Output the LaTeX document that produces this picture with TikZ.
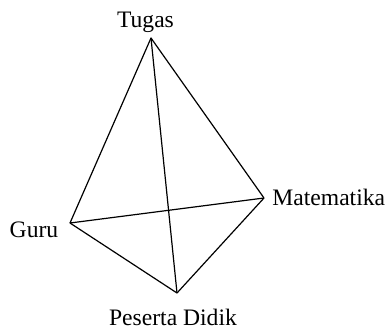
\documentclass[tikz,border=0pt]{standalone}
\usepackage{fontspec}
\setmainfont{Liberation Serif}
\usepackage{tikz}
\usetikzlibrary{positioning,calc}

\begin{document}
\begin{tikzpicture}[x=0.5pt,y=-0.5pt,
		lbl/.style={inner sep=0pt,anchor=base,font=\fontsize{11.8}{14}\selectfont},
		edge/.style={line width=0.6pt,line join=round}]
			\useasboundingbox (0,0) rectangle (388,329);
			% corners
			\coordinate (tugas) at (151,38);
			\coordinate (guru) at (70,223);
			\coordinate (mat) at (264,198);
			\coordinate (siswa) at (177,293);
			% labels
			\node[lbl] (lt) at (145.5,27) {Tugas};
			\node[lbl] (lg) at (34,237) {Guru};
			\node[lbl,anchor=base west] (lm) at (272,205.5) {Matematika};
			\node[lbl] (ls) at (173,325) {Peserta Didik};
			% edges
			\draw[edge] (tugas) -- (guru) -- (siswa) -- (mat) -- cycle;
			\draw[edge] (tugas) -- (siswa);
			\draw[edge] (guru) -- (mat);
		\end{tikzpicture}
\end{document}
